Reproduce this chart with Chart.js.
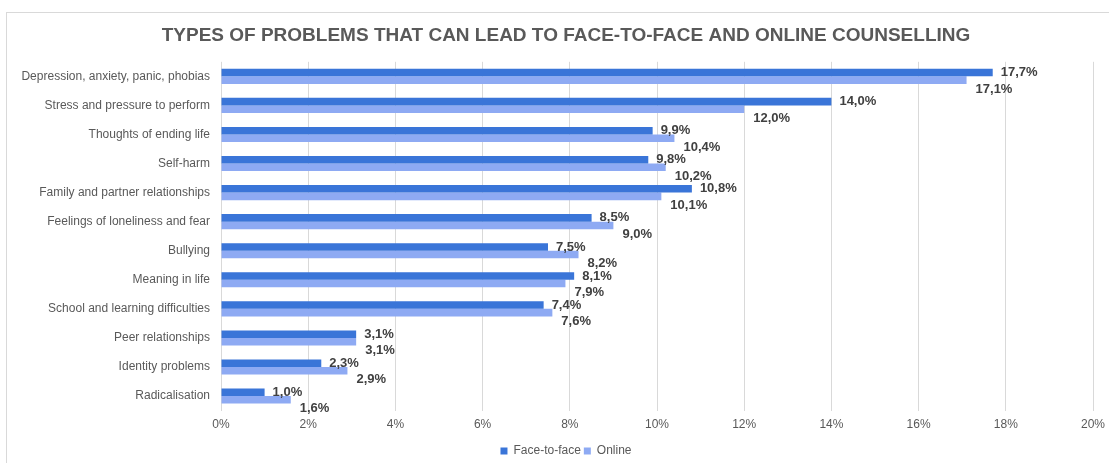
<!DOCTYPE html>
<html>
<head>
<meta charset="utf-8">
<script src="https://cdn.jsdelivr.net/npm/chart.js@4.4.1/dist/chart.umd.min.js"></script>
<style>
    html, body { margin: 0; padding: 0; background: #fff; overflow: hidden; }
    #frame { position: absolute; left: 6px; top: 12px; width: 1120px; height: 470px;
             border-left: 1px solid #d9d9d9; border-top: 1px solid #d9d9d9; }
    #wrap { position: absolute; left: 0; top: 0; width: 1109px; height: 463px; }
</style>
</head>
<body>
<div id="frame"></div>
<div id="wrap"><canvas id="chart" width="1109" height="463"></canvas></div>
<script>
const categories = [
    "Depression, anxiety, panic, phobias",
    "Stress and pressure to perform",
    "Thoughts of ending life",
    "Self-harm",
    "Family and partner relationships",
    "Feelings of loneliness and fear",
    "Bullying",
    "Meaning in life",
    "School and learning difficulties",
    "Peer relationships",
    "Identity problems",
    "Radicalisation"
];
const faceToFace = [17.7, 14.0, 9.9, 9.8, 10.8, 8.5, 7.5, 8.1, 7.4, 3.1, 2.3, 1.0];
const online = [17.1, 12.0, 10.4, 10.2, 10.1, 9.0, 8.2, 7.9, 7.6, 3.1, 2.9, 1.6];
const xTicks = [0, 2, 4, 6, 8, 10, 12, 14, 16, 18, 20];

const FONT = "'Liberation Sans', Arial, sans-serif";

// value labels: face-to-face next to its bar, online a bit lower
const barLabels = {
    id: "barLabels",
    afterDatasetsDraw(chart) {
        const ctx = chart.ctx;
        ctx.save();
        ctx.font = "bold 13px " + FONT;
        ctx.fillStyle = "#404040";
        ctx.textBaseline = "middle";
        ctx.textAlign = "left";
        const faceMeta = chart.getDatasetMeta(0);
        const onlineMeta = chart.getDatasetMeta(1);
        faceMeta.data.forEach((bar, i) => {
            const txt = faceToFace[i].toFixed(1).replace(".", ",") + "%";
            ctx.fillText(txt, bar.x + 8, bar.y);
        });
        onlineMeta.data.forEach((bar, i) => {
            const txt = online[i].toFixed(1).replace(".", ",") + "%";
            ctx.fillText(txt, bar.x + 9, bar.y + 9);
        });
        ctx.restore();
    }
};

new Chart(document.getElementById("chart"), {
    type: "bar",
    data: {
        labels: categories,
        datasets: [
            {
                label: "Face-to-face",
                data: faceToFace,
                backgroundColor: "#3a75d8",
                categoryPercentage: 0.52,
                barPercentage: 1.0,
            },
            {
                label: "Online",
                data: online,
                backgroundColor: "#8eaaf3",
                categoryPercentage: 0.52,
                barPercentage: 1.0,
            },
        ],
    },
    plugins: [barLabels],
    options: {
        indexAxis: "y",
        responsive: false,
        animation: false,
        devicePixelRatio: 1,
        layout: {
            padding: { left: 4, right: -19, top: 14, bottom: -4 },
        },
        plugins: {
            title: {
                display: true,
                text: "TYPES OF PROBLEMS THAT CAN LEAD TO FACE-TO-FACE AND ONLINE COUNSELLING",
                color: "#595959",
                font: { family: FONT, size: 19, weight: "bold" },
                padding: { top: 10, bottom: 15 },
            },
            legend: {
                position: "bottom",
                labels: {
                    color: "#595959",
                    font: { family: FONT, size: 12 },
                    boxWidth: 7,
                    boxHeight: 7,
                    padding: 3,
                },
            },
            tooltip: { enabled: false },
        },
        scales: {
            x: {
                min: 0,
                max: 20,
                afterBuildTicks: (axis) => {
                    axis.ticks = xTicks.map((v) => ({ value: v }));
                },
                afterFit: (axis) => {
                    axis.height += 3;
                    axis.paddingRight = 16;
                },
                ticks: {
                    callback: (v) => v + "%",
                    color: "#595959",
                    font: { family: FONT, size: 12 },
                    padding: 7,
                },
                grid: { color: "#d9d9d9", drawTicks: false },
                border: { display: false },
            },
            y: {
                afterFit: (axis) => {
                    axis.width = 217;
                },
                ticks: {
                    color: "#595959",
                    font: { family: FONT, size: 12 },
                    padding: 3,
                },
                grid: { display: false },
                border: { display: false },
            },
        },
    },
});
</script>
</body>
</html>
